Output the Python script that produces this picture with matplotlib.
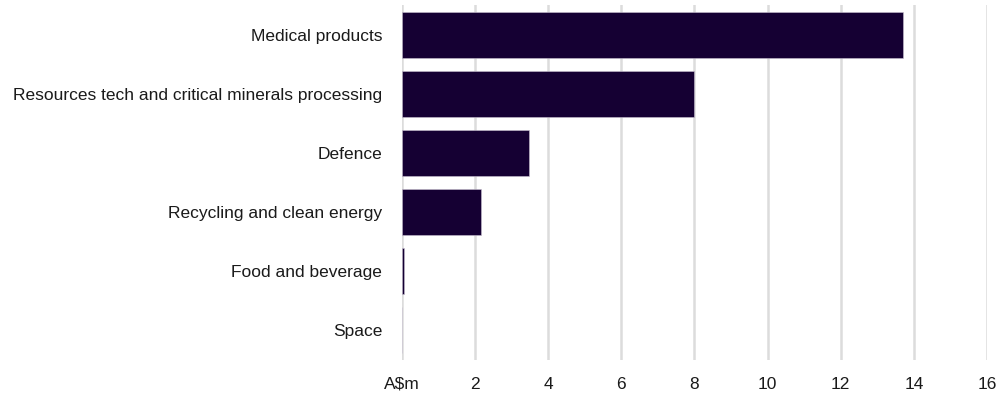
import matplotlib.pyplot as plt

plt.rcParams['font.family'] = ['Liberation Sans', 'DejaVu Sans']

categories = ['Medical products', 'Resources tech and critical minerals processing',
              'Defence', 'Recycling and clean energy', 'Food and beverage', 'Space']
values = [13.7, 8.0, 3.47, 2.17, 0.05, 0.0]
xticks = [0, 2, 4, 6, 8, 10, 12, 14, 16]
xtick_labels = ['A$m', '2', '4', '6', '8', '10', '12', '14', '16']

fig = plt.figure(figsize=(10.02, 4.0), dpi=100)
ax = fig.add_axes([0.401, 0.1, 0.584, 0.8875])

ypos = list(range(len(categories)))
ax.barh(ypos, values, height=0.78, color='#150033', edgecolor='#c8c0d0', linewidth=0.4, zorder=3)

ax.set_yticks(ypos)
ax.set_yticklabels(categories, fontsize=12.5, color='#1a1a1a')
ax.set_ylim(len(categories) - 0.5, -0.5)
ax.set_xlim(0, 16)
ax.set_xticks(xticks)
ax.set_xticklabels(xtick_labels, fontsize=12.5, color='#1a1a1a')

ax.grid(axis='x', color='#dcdcdc', linewidth=1.8, zorder=0)
ax.tick_params(axis='both', length=0)
ax.tick_params(axis='y', pad=14)
ax.tick_params(axis='x', pad=12)
for s in ax.spines.values():
    s.set_visible(False)

fig.savefig('out.png', dpi=100)
